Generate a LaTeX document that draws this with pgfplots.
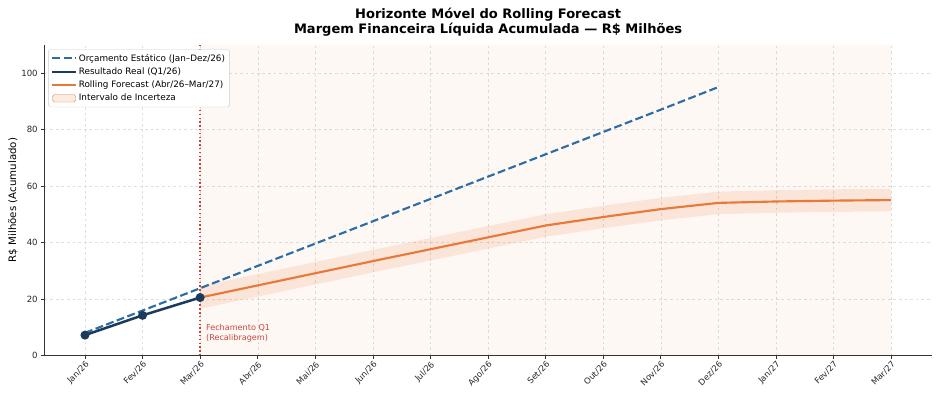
\documentclass[border=0pt]{standalone}
\usepackage{fontspec}
\setmainfont{DejaVu Sans}
\usepackage{pgfplots}
\pgfplotsset{compat=1.18}
\usepgfplotslibrary{fillbetween}
\definecolor{cbud}{HTML}{2E6DA4}
\definecolor{cact}{HTML}{1B3A5C}
\definecolor{cfc}{HTML}{E8793A}
\definecolor{cred}{HTML}{C8453A}
\begin{document}
\begin{tikzpicture}
\begin{axis}[
  scale only axis, width=953pt, height=334pt,
  xmin=-0.7, xmax=14.7, ymin=0, ymax=110,
  axis x line*=bottom, axis y line*=left,
  axis line style={black!80, line width=0.8pt},
  tick align=outside, tick style={black!80, line width=0.8pt},
  major tick length=4pt,
  xtick={0,...,14},
  xticklabels={Jan/26,Fev/26,Mar/26,Abr/26,Mai/26,Jun/26,Jul/26,Ago/26,Set/26,Out/26,Nov/26,Dez/26,Jan/27,Fev/27,Mar/27},
  xticklabel style={rotate=45, anchor=north east, font=\fontsize{9}{10}\selectfont, inner sep=1pt, text=black!85},
  ytick={0,20,40,60,80,100},
  yticklabel style={font=\fontsize{9.2}{11}\selectfont, text=black!85},
  /pgf/number format/assume math mode=true,
  grid=major, major grid style={gray!25, dashed, line width=0.5pt},
  ylabel={R\$ Milhões (Acumulado)},
  ylabel style={font=\fontsize{11}{12}\selectfont, yshift=-3pt},
  title={Horizonte Móvel do Rolling Forecast\\Margem Financeira Líquida Acumulada — R\$ Milhões},
  title style={font=\bfseries\fontsize{14}{16.5}\selectfont, align=center, yshift=-1pt},
  legend style={font=\fontsize{9.5}{11}\selectfont, draw=black!20, rounded corners=2pt, fill=white, row sep=1.5pt, inner xsep=3pt, inner ysep=3pt, at={(0.004,0.985)}, anchor=north west},
  legend cell align=left,
  legend image code/.code={\draw[#1] (0pt,0pt) -- (25pt,0pt);},
]
% background span
\addplot[draw=none, fill=cfc, fill opacity=0.05, forget plot] coordinates {(2,0) (14,0) (14,110) (2,110) (2,0)};
% uncertainty band
\addplot[name path=up, draw=none, forget plot] coordinates {(2,24.5) (3,28.8) (4,33.1) (5,37.4) (6,41.6) (7,45.8) (8,50.0) (9,53.0) (10,55.8) (11,58.0) (12,58.5) (13,58.8) (14,59.0)};
\addplot[name path=lo, draw=none, forget plot] coordinates {(2,16.5) (3,20.8) (4,25.1) (5,29.4) (6,33.6) (7,37.8) (8,42.0) (9,45.0) (10,47.8) (11,50.0) (12,50.5) (13,50.8) (14,51.0)};
\addplot[fill=cfc, fill opacity=0.15, draw=none, forget plot] fill between[of=up and lo];
% vertical line
\addplot[cred, dash pattern=on 1.5pt off 2.6pt, line width=1.6pt, forget plot] coordinates {(2,0) (2,110)};
% budget
\addplot[cbud, line width=2.3pt, dash pattern=on 8.5pt off 3.7pt] coordinates {(0,8.0) (1,15.9) (2,23.8) (3,31.7) (4,39.6) (5,47.5) (6,55.4) (7,63.3) (8,71.2) (9,79.1) (10,87.0) (11,95.0)};
\addlegendentry{Orçamento Estático (Jan–Dez/26)}
% actual
\addplot[cact, line width=2.7pt, mark=*, mark size=3.4pt, mark options={solid}, legend image post style={mark=none}] coordinates {(0,7.2) (1,14.2) (2,20.5)};
\addlegendentry{Resultado Real (Q1/26)}
% forecast
\addplot[cfc, line width=2.3pt] coordinates {(2,20.5) (3,24.8) (4,29.1) (5,33.4) (6,37.6) (7,41.8) (8,46.0) (9,49.0) (10,51.8) (11,54.0) (12,54.5) (13,54.8) (14,55.0)};
\addlegendentry{Rolling Forecast (Abr/26–Mar/27)}
\addlegendimage{legend image code/.code={\fill[cfc, fill opacity=0.15] (0pt,-4pt) rectangle (25pt,4pt);}}
\addlegendentry{Intervalo de Incerteza}
\node[anchor=south west, align=left, text=cred, font=\fontsize{8.7}{10}\selectfont, inner sep=0pt] at (axis cs:2.1,4.8) {Fechamento Q1\\(Recalibragem)};
\end{axis}
\path[use as bounding box] (-48pt,-45pt) rectangle (960pt,382pt);
\end{tikzpicture}
\end{document}
